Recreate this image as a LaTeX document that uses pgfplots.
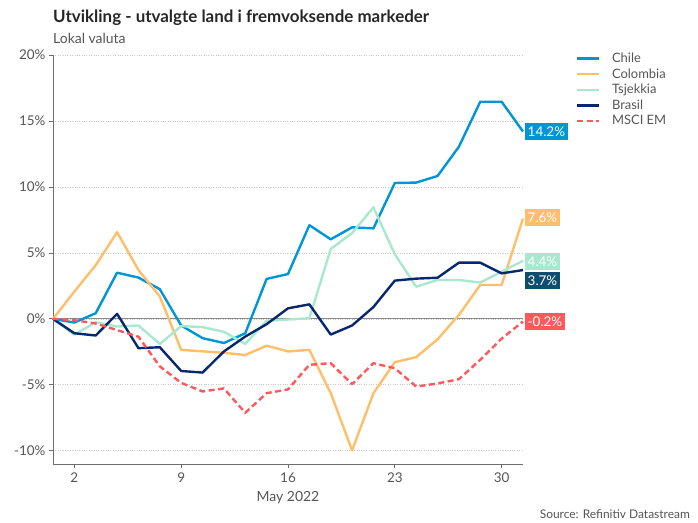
\documentclass[border=0pt]{standalone}
\usepackage{fontspec}
\setmainfont{Lato}
\usepackage{pgfplots}
\usepackage{pgfplotstable}
\pgfplotsset{compat=1.18}
\definecolor{chile}{RGB}{0,150,214}
\definecolor{colombia}{RGB}{255,190,105}
\definecolor{tsjekkia}{RGB}{168,232,206}
\definecolor{brasil}{RGB}{8,40,110}
\definecolor{brasilbox}{RGB}{14,77,110}
\definecolor{msci}{RGB}{255,88,92}
\definecolor{axisgray}{RGB}{110,110,110}
\definecolor{gridgray}{RGB}{200,200,200}
\definecolor{labelgray}{RGB}{85,85,85}

\pgfplotstableread{
i  chile  colombia tsjekkia brasil msci
0  0      0        0        0      0
1  -0.28  2.07     -1.20    -1.09  -0.10
2  0.43   4.07     -0.25    -1.26  -0.35
3  3.50   6.57     -0.58    0.38   -0.85
4  3.13   3.70     -0.50    -2.22  -1.35
5  2.25   1.70     -1.90    -2.15  -3.60
6  -0.50  -2.35    -0.55    -3.95  -4.85
7  -1.46  -2.46    -0.62    -4.07  -5.50
8  -1.83  -2.57    -0.98    -2.47  -5.27
9  -1.09  -2.74    -1.90    -1.34  -7.12
10 3.03   -2.03    -0.15    -0.40  -5.63
11 3.40   -2.47    -0.05    0.80   -5.35
12 7.10   -2.35    0.05     1.10   -3.48
13 6.03   -5.63    5.30     -1.19  -3.36
14 6.94   -9.97    6.50     -0.50  -4.95
15 6.86   -5.63    8.45     0.90   -3.36
16 10.30  -3.28    4.90     2.90   -3.74
17 10.33  -2.90    2.44     3.05   -5.13
18 10.83  -1.55    2.95     3.12   -4.90
19 13.05  0.30     2.95     4.26   -4.57
20 16.46  2.57     2.75     4.26   -3.10
21 16.46  2.57     3.58     3.45   -1.50
22 14.20  7.60     4.40     3.70   -0.20
}\datatable

\begin{document}
\begin{tikzpicture}
\path[use as bounding box] (0bp,0bp) rectangle (698bp,-523bp);
\node[anchor=base west, inner sep=0pt, font=\fontsize{17}{20}\selectfont\bfseries, text=black!85] at (53bp,-22bp) {Utvikling - utvalgte land i fremvoksende markeder};
\node[anchor=base west, inner sep=0pt, font=\fontsize{14}{16}\selectfont, text=labelgray] at (53bp,-43bp) {Lokal valuta};
\node[anchor=base east, inner sep=0pt, font=\fontsize{12}{14}\selectfont, text=labelgray] at (690bp,-518bp) {Source: Refinitiv Datastream};
\begin{axis}[
  at={(53bp,-464bp)}, anchor=south west,
  width=470bp, height=409bp, scale only axis,
  xmin=0, xmax=22, ymin=-11, ymax=20,
  axis x line*=bottom, axis y line*=left,
  axis line style={draw=axisgray, line width=0.8bp, -},
  xtick={1,6,11,16,21}, xticklabels={2,9,16,23,30},
  ytick={-10,-5,0,5,10,15,20},
  yticklabels={-10\%,-5\%,0\%,5\%,10\%,15\%,20\%},
  tick align=outside, major tick length=4bp,
  tick style={draw=axisgray, line width=0.8bp},
  ymajorgrids, grid style={dotted, draw=gridgray, line width=0.7bp},
  extra y ticks={0}, extra y tick labels={},
  extra y tick style={major tick length=0pt, grid=major, major grid style={solid, draw=axisgray!80, line width=0.9bp}},
  ticklabel style={font=\fontsize{13.5}{15}\selectfont, text=labelgray},
  xticklabel style={yshift=-1.5bp},
  /pgf/number format/assume math mode=true,
  xlabel={May 2022},
  xlabel style={font=\fontsize{14}{16}\selectfont, text=labelgray, yshift=-2bp},
  clip=false,
  legend style={at={(axis description cs:1.112,1.0097)}, anchor=north west, draw=none, fill=none,
    font=\fontsize{13}{15}\selectfont, text=labelgray, inner sep=0pt, row sep=1.0bp,
    nodes={inner sep=1.8bp}},
  legend cell align=left,
  legend image code/.code={\draw[#1, line width=2.4bp] (0bp,0bp) -- (22bp,0bp); \path (32bp,0bp);},
  every axis plot/.append style={line width=2.4bp, line join=round},
]
\addplot[chile] table[x=i,y=chile] {\datatable};
\addlegendentry{Chile}
\addplot[colombia] table[x=i,y=colombia] {\datatable};
\addlegendentry{Colombia}
\addplot[tsjekkia] table[x=i,y=tsjekkia] {\datatable};
\addlegendentry{Tsjekkia}
\addplot[brasil] table[x=i,y=brasil] {\datatable};
\addlegendentry{Brasil}
\addplot[msci, dash pattern=on 6bp off 3.5bp] table[x=i,y=msci] {\datatable};
\addlegendentry{MSCI EM}
\tikzset{lbl/.style={anchor=west, xshift=1.5bp, text=white, inner xsep=3bp, inner ysep=0pt, minimum height=17bp, text height=9.5bp, text depth=0pt, font=\fontsize{13.5}{15}\selectfont}}
\node[lbl, fill=chile] at (axis cs:22,14.17) {14.2\%};
\node[lbl, fill=colombia] at (axis cs:22,7.65) {7.6\%};
\node[lbl, fill=tsjekkia] at (axis cs:22,4.32) {4.4\%};
\node[lbl, fill=brasilbox] at (axis cs:22,2.88) {3.7\%};
\node[lbl, fill=msci] at (axis cs:22,-0.23) {-0.2\%};
\end{axis}
\end{tikzpicture}
\end{document}
